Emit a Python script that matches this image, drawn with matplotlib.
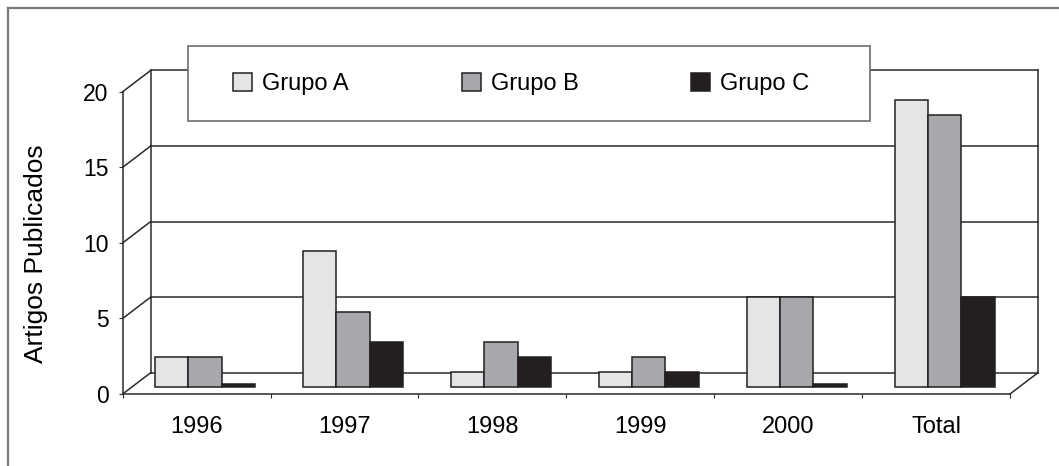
import numpy as np
import matplotlib
matplotlib.use("Agg")
import matplotlib.pyplot as plt
from matplotlib.patches import Rectangle
from matplotlib.lines import Line2D
from matplotlib.transforms import ScaledTranslation

plt.rcParams['font.family'] = ['Liberation Sans', 'DejaVu Sans']

# data
categories = ["1996", "1997", "1998", "1999", "2000", "Total"]
grupo_a = [2, 9, 1, 1, 6, 19]
grupo_b = [2, 5, 3, 2, 6, 18]
grupo_c = [0, 3, 2, 1, 0, 6]
series_names = ["Grupo A", "Grupo B", "Grupo C"]
y_ticks = [0, 5, 10, 15, 20]

colors = ["#e4e5e7", "#a7a8ab", "#231f20"]
edge = "#231f20"
line_col = "#2b2b2b"

W, H = 1059, 466
fig = plt.figure(figsize=(W / 100, H / 100), dpi=100)

# front plane of the pseudo-3d chart, placed in pixels
x0, x1 = 122.7, 1010.0
y0, y1 = 394.0, 91.7
ax = fig.add_axes([x0 / W, 1 - y0 / H, (x1 - x0) / W, (y0 - y1) / H])
n = len(categories)
ax.set_xlim(0, n)
ax.set_ylim(0, 20)
ax.patch.set_visible(False)

# depth offsets (pixels)
back_dx, back_dy = 28 / 100, 21.3 / 100
bar_dx, bar_dy = 8.5 / 100, 6.7 / 100
back = ax.transData + ScaledTranslation(back_dx, back_dy, fig.dpi_scale_trans)
mid = ax.transData + ScaledTranslation(bar_dx, bar_dy, fig.dpi_scale_trans)

# back wall grid + edges
for v in y_ticks:
    ax.plot([0, n], [v, v], color=line_col, lw=1.1, transform=back,
            clip_on=False, zorder=1)
for xv in [0, n]:
    ax.plot([xv, xv], [0, 20], color=line_col, lw=1.1, transform=back,
            clip_on=False, zorder=1)

# side wall / floor diagonals
def diag(xv, v):
    p0 = ax.transData.transform((xv, v))
    p1 = back.transform((xv, v))
    fig.add_artist(Line2D([p0[0] / W, p1[0] / W], [p0[1] / H, p1[1] / H],
                          color=line_col, lw=1.1, transform=fig.transFigure,
                          zorder=0.5))

fig.canvas.draw()
for v in y_ticks:
    diag(0, v)
diag(n, 0)

# bars
x = np.arange(n)
bw = 33.3 / ((x1 - x0) / n)
min_h = 0.24  # zero bars still show their top face
for k, vals in enumerate([grupo_a, grupo_b, grupo_c]):
    hv = np.maximum(np.array(vals, dtype=float), min_h)
    ax.bar(x + 0.5 + (k - 1) * bw, hv, width=bw, color=colors[k],
           edgecolor=edge, linewidth=1.1, transform=mid, clip_on=False,
           zorder=3, label=series_names[k])

# axes styling
for s in ["top", "right"]:
    ax.spines[s].set_visible(False)
for s in ["left", "bottom"]:
    ax.spines[s].set_color(line_col)
    ax.spines[s].set_linewidth(1.1)
    ax.spines[s].set_zorder(4)
ax.set_yticks(y_ticks)
ax.tick_params(axis='y', direction='out', length=3.2, width=0.8,
               color=line_col, labelsize=16.5, pad=7)
ax.set_xticks(np.arange(n + 1), minor=True)
ax.set_xticks(x + 0.5)
ax.set_xticklabels(categories)
ax.tick_params(axis='x', which='minor', direction='out', length=3.2,
               width=0.8, color=line_col)
ax.tick_params(axis='x', which='major', length=0, labelsize=17, pad=16)

fig.text(36 / W, 1 - 254 / H, "Artigos Publicados", rotation=90,
         ha='center', va='center', fontsize=19)

# legend box
fig.add_artist(Rectangle((188.3 / W, 1 - 121 / H), (870 - 188.3) / W,
                         (121 - 45.7) / H, facecolor='white',
                         edgecolor='#6e6e6e', lw=1.2,
                         transform=fig.transFigure, zorder=5))
fs = 17
fs_px = fs * 100 / 72
leg = fig.legend(loc='center left', bbox_to_anchor=(233 / W, 1 - 84 / H),
                 ncol=3, frameon=False, fontsize=fs, borderpad=0,
                 borderaxespad=0, handlelength=19 / fs_px,
                 handleheight=19 / fs_px, handletextpad=10 / fs_px,
                 columnspacing=113 / fs_px)
leg.set_zorder(6)

# outer frame (top and left edges visible)
fig.add_artist(Line2D([8 / W, 1], [1 - 8.3 / H, 1 - 8.3 / H], color='#7a7a7a',
                      lw=1.6, transform=fig.transFigure))
fig.add_artist(Line2D([8.3 / W, 8.3 / W], [0, 1 - 8.3 / H], color='#7a7a7a',
                      lw=1.6, transform=fig.transFigure))

fig.savefig("out.png", dpi=100)
